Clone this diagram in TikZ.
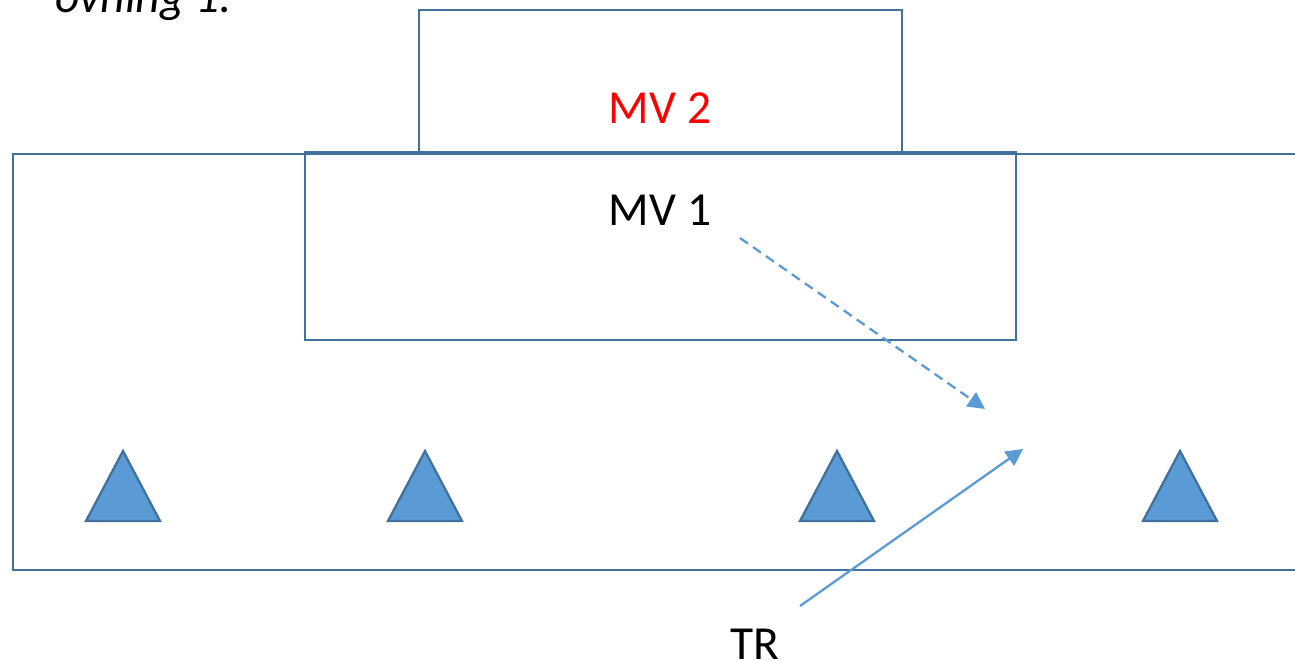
\documentclass[tikz,border=0pt]{standalone}
\usepackage{fontspec}
\setmainfont{Carlito}
\usetikzlibrary{arrows.meta,positioning}
\definecolor{cEdge}{HTML}{41719C}
\definecolor{cFill}{HTML}{5B9BD5}
\tikzset{
  frame/.style={draw=cEdge,line width=1.3pt,inner sep=0pt},
  lbl/.style={font=\fontsize{27}{32}\selectfont,inner sep=0pt},
  tri/.style={draw=cEdge,fill=cFill,line width=1.3pt},
  link/.style={-{Triangle[length=3.4mm,width=3.4mm]},cFill,line width=1.3pt},
}

\begin{document}
\begin{tikzpicture}[x=0.02cm,y=-0.02cm]
  \useasboundingbox (0,0) rectangle (1295,661);
  % heading, cut off at the top
  \node[lbl,font=\fontsize{27}{32}\selectfont\itshape,anchor=base west] (title) at (55,13) {övning 1:};
  % outer box, open on the right
  \draw[frame] (1295,154) -- (13,154) -- (13,570) -- (1295,570);
  \node[frame,minimum width=9.66cm,minimum height=2.84cm] (mv2) at (660.5,81) {};
  \node[frame,minimum width=14.22cm,minimum height=3.76cm] (mv1) at (660.5,246) {};
  \node[lbl,text=red] (mv2txt) at (660,108) {MV 2};
  \node[lbl] (mv1txt) at (660,210) {MV 1};
  \node[lbl] (tr) at (755,644) {TR};
  % stations
  \foreach \x in {123,425,837,1180}
    \draw[tri] (\x,451) -- ({\x+37},521) -- ({\x-37},521) -- cycle;
  % arrows
  \coordinate (d1) at (740,238);
  \coordinate (d2) at (985,409);
  \coordinate (s1) at (800,606);
  \coordinate (s2) at (1023,449);
  \draw[link,dash pattern=on 5.5pt off 3.5pt] (d1) -- (d2);
  \draw[link] (s1) -- (s2);
\end{tikzpicture}
\end{document}
